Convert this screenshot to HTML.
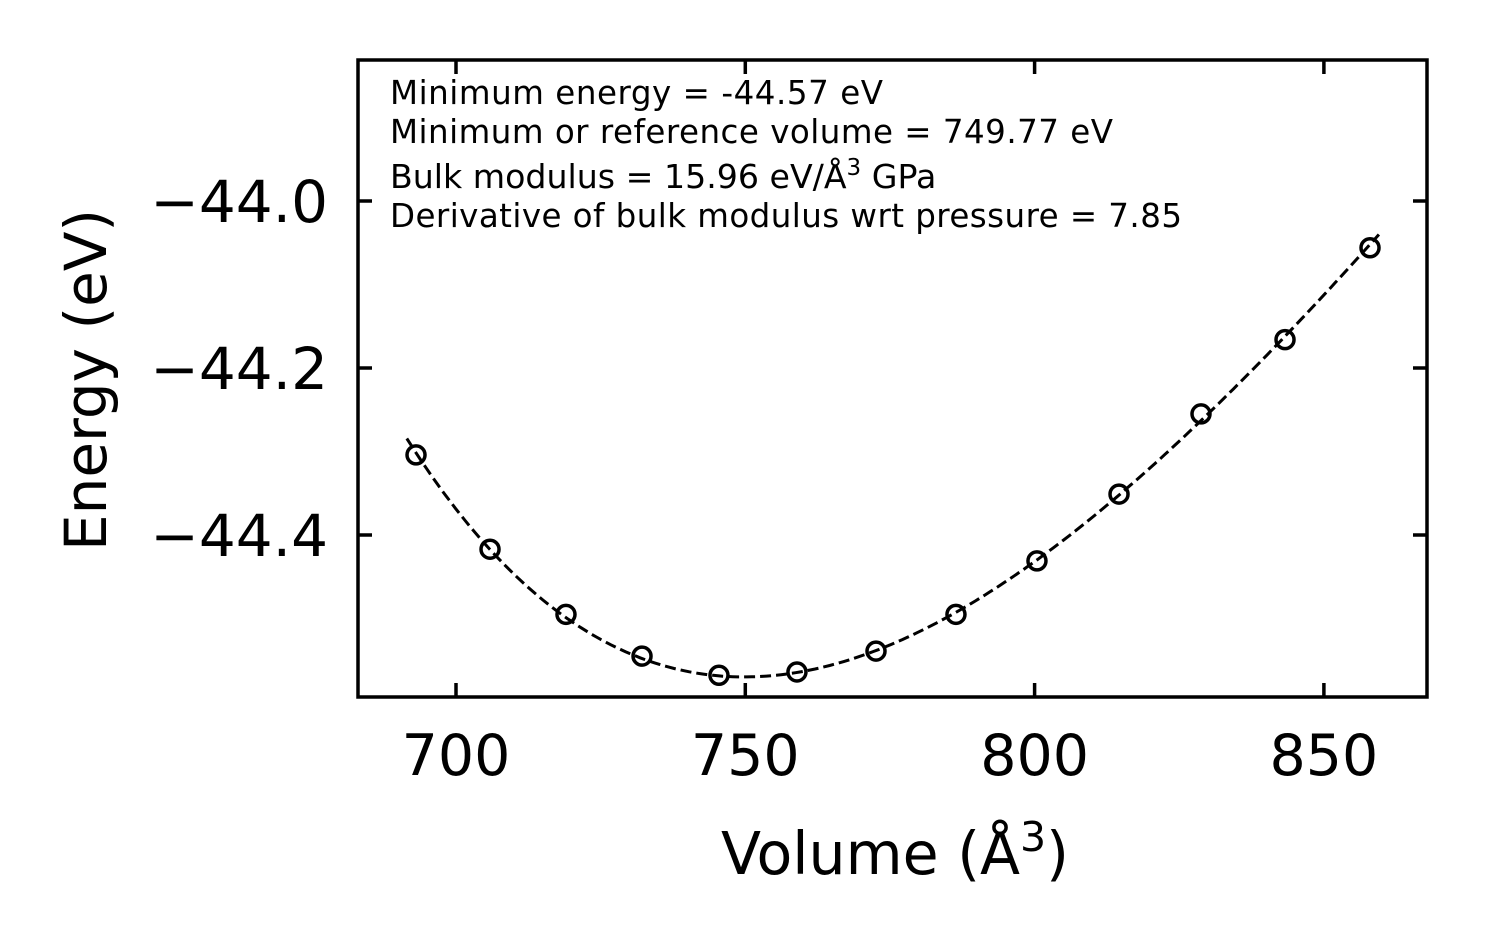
<!DOCTYPE html>
<html><head><meta charset="utf-8"><style>
body{margin:0;background:#fff}
svg text{font-family:"DejaVu Sans","Liberation Sans",sans-serif;fill:#000}
</style></head><body>
<svg id="chart" width="1487" height="943" xmlns="http://www.w3.org/2000/svg">
<g id="plot"></g>
<text x="390" y="104" font-size="32.5" textLength="493">Minimum energy = -44.57 eV</text>
<text x="390" y="143" font-size="32.5" textLength="723">Minimum or reference volume = 749.77 eV</text>
<text x="390" y="188" font-size="33.2">Bulk modulus = 15.96 eV/Å<tspan font-size="23" dy="-13">3</tspan><tspan dy="13"> GPa</tspan></text>
<text x="390" y="227" font-size="32.5" textLength="792">Derivative of bulk modulus wrt pressure = 7.85</text>
<text x="895" y="874" font-size="58.5" text-anchor="middle">Volume (Å<tspan font-size="41" dy="-23">3</tspan><tspan dy="23">)</tspan></text>
<text transform="translate(106,380) rotate(-90)" font-size="58" text-anchor="middle">Energy (eV)</text>
</svg>
<script>
const volumes=[693.09,705.88,719.01,732.15,745.45,758.93,772.59,786.41,800.41,814.59,828.76,843.28,857.97];
const energies=[-44.304,-44.417,-44.495,-44.545,-44.568,-44.564,-44.539,-44.495,-44.431,-44.351,-44.255,-44.166,-44.056];
const xTicks=[700,750,800,850];
const yTicks=[-44.0,-44.2,-44.4];
const fitE0=-44.57, fitV0=749.77, fitB0GPa=15.96, fitBp=7.85;
const L=358,R=1427,T=60,B=697;
const x=v=>456+(v-700)*5.786;
const y=e=>201+(-44.0-e)*835;
const NS="http://www.w3.org/2000/svg";
const g=document.getElementById('plot');
function mk(t,a){const e=document.createElementNS(NS,t);for(const k in a)e.setAttribute(k,a[k]);g.appendChild(e);return e;}
const B0=fitB0GPa/160.2177;
function bm(V){const n=Math.pow(fitV0/V,2/3);return fitE0+9*fitV0*B0/16*(Math.pow(n-1,3)*fitBp+Math.pow(n-1,2)*(6-4*n));}
let d='';
for(let i=0;i<=200;i++){const V=691.5+(859.5-691.5)*i/200;d+=(i?'L':'M')+x(V).toFixed(1)+' '+y(bm(V)).toFixed(1);}
const c=mk('path',{d:d,fill:'none',stroke:'#000','stroke-width':3,'stroke-dasharray':'11 5'});


volumes.forEach((v,i)=>{const p=mk('circle',{cx:x(v),cy:y(energies[i]),r:9,fill:'none',stroke:'#000','stroke-width':3.5});

});
const f=mk('rect',{x:L,y:T,width:R-L,height:B-T,fill:'none',stroke:'#000','stroke-width':3.5});


xTicks.forEach(t=>{const X=x(t);
mk('line',{x1:X,x2:X,y1:B,y2:B-14,stroke:'#000','stroke-width':3.5});
mk('line',{x1:X,x2:X,y1:T,y2:T+14,stroke:'#000','stroke-width':3.5});
const tx=mk('text',{x:X,y:775,'font-size':57,'text-anchor':'middle'});tx.textContent=t;

});
yTicks.forEach(t=>{const Y=y(t);
mk('line',{x1:L,x2:L+14,y1:Y,y2:Y,stroke:'#000','stroke-width':3.5});
mk('line',{x1:R,x2:R-14,y1:Y,y2:Y,stroke:'#000','stroke-width':3.5});
const tx=mk('text',{x:328,y:Y+21,'font-size':58,'text-anchor':'end'});tx.textContent='\u2212'+Math.abs(t).toFixed(1);

});
</script>
</body></html>
